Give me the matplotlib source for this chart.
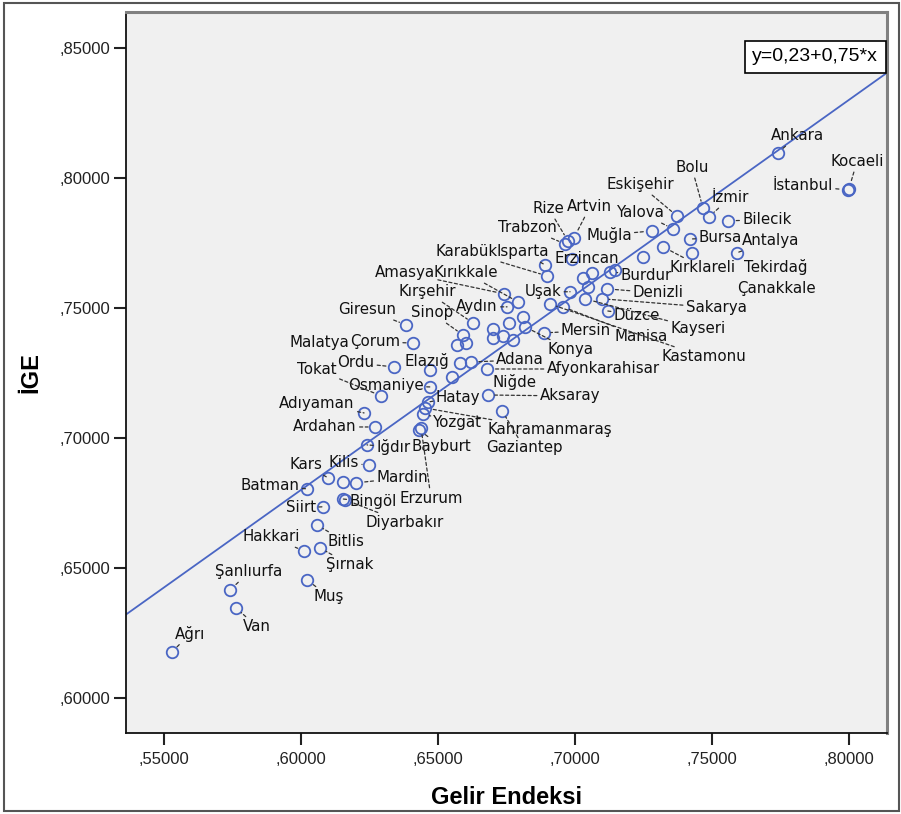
import matplotlib
matplotlib.use('Agg')
import matplotlib.pyplot as plt
from matplotlib.ticker import FuncFormatter, MultipleLocator
from matplotlib.patches import Rectangle

# İllere göre gelir endeksi ve İGE değerleri
provinces = [
    'Ankara', 'İstanbul', 'Kocaeli', 'Bolu', 'İzmir', 'Eskişehir', 'Yalova', 'Bilecik',
    'Muğla', 'Bursa', 'Antalya', 'Tekirdağ', 'Kırklareli', 'Çanakkale', 'Trabzon', 'Rize',
    'Artvin', 'Erzincan', 'Isparta', 'Karabük', 'Burdur', 'Denizli', 'Düzce', 'Sakarya',
    'Kayseri', 'Manisa', 'Uşak', 'Kastamonu', 'Mersin', 'Konya', 'Amasya', 'Kırıkkale',
    'Aydın', 'Kırşehir', 'Sinop', 'Giresun', 'Çorum', 'Malatya', 'Ordu', 'Elazığ',
    'Osmaniye', 'Tokat', 'Adana', 'Afyonkarahisar', 'Niğde', 'Aksaray', 'Hatay',
    'Kahramanmaraş', 'Yozgat', 'Bayburt', 'Erzurum', 'Gaziantep', 'Adıyaman', 'Ardahan',
    'Iğdır', 'Kilis', 'Kars', 'Mardin', 'Batman', 'Bingöl', 'Diyarbakır', 'Siirt',
    'Bitlis', 'Hakkari', 'Şırnak', 'Muş', 'Şanlıurfa', 'Van', 'Ağrı',
]
gelir = [
    0.7741, 0.7996, 0.8000, 0.7467, 0.7489, 0.7372, 0.7358, 0.7558,
    0.7281, 0.7420, 0.7591, 0.7427, 0.7321, 0.7248, 0.6964, 0.6974,
    0.6996, 0.6989, 0.6891, 0.6898, 0.7128, 0.7117, 0.7120, 0.7099,
    0.7036, 0.6956, 0.6982, 0.6909, 0.6887, 0.6818, 0.6741, 0.6792,
    0.6752, 0.6628, 0.6591, 0.6383, 0.6409, 0.6580, 0.6339, 0.6471,
    0.6471, 0.6292, 0.6620, 0.6679, 0.6551, 0.6682, 0.6464,
    0.6453, 0.6445, 0.6431, 0.6438, 0.6734, 0.6230, 0.6270,
    0.6241, 0.6248, 0.6099, 0.6201, 0.6022, 0.6153, 0.6161, 0.6080,
    0.6058, 0.6011, 0.6069, 0.6022, 0.5741, 0.5763, 0.5529,
]
ige = [
    0.8096, 0.7954, 0.7958, 0.7885, 0.7850, 0.7854, 0.7804, 0.7835,
    0.7796, 0.7765, 0.7712, 0.7712, 0.7735, 0.7696, 0.7746, 0.7758,
    0.7769, 0.7688, 0.7665, 0.7623, 0.7638, 0.7573, 0.7488, 0.7535,
    0.7535, 0.7504, 0.7562, 0.7515, 0.7404, 0.7427, 0.7554, 0.7523,
    0.7504, 0.7442, 0.7396, 0.7435, 0.7365, 0.7288, 0.7273, 0.7262,
    0.7196, 0.7162, 0.7292, 0.7265, 0.7235, 0.7165, 0.7138,
    0.7115, 0.7092, 0.7031, 0.7038, 0.7104, 0.7096, 0.7042,
    0.6973, 0.6896, 0.6846, 0.6827, 0.6804, 0.6765, 0.6762, 0.6735,
    0.6665, 0.6565, 0.6577, 0.6454, 0.6415, 0.6346, 0.6177,
]

# etiketsiz kalan iller
other_gelir = [0.7146, 0.7062, 0.7029, 0.7047, 0.6810, 0.6759, 0.6701,
               0.6701, 0.6737, 0.6774, 0.6569, 0.6602, 0.6153]
other_ige = [0.7646, 0.7635, 0.7615, 0.7581, 0.7465, 0.7442, 0.7419,
             0.7385, 0.7392, 0.7377, 0.7358, 0.7365, 0.6831]

# doğrusal uyum: y = 0,23 + 0,75*x
intercept = 0.23
slope = 0.75

# etiket kaydırmaları (piksel, sağa / yukarı)
label_offsets = {
    'Ankara': (19, 17), 'İstanbul': (-45, 4), 'Kocaeli': (8, 27), 'Bolu': (-11, 40),
    'İzmir': (21, 19), 'Eskişehir': (-37, 31), 'Yalova': (-32, 16), 'Bilecik': (39, 1),
    'Muğla': (-43, -4), 'Bursa': (30, 1), 'Antalya': (34, 12), 'Tekirdağ': (84, -14),
    'Kırklareli': (40, -21), 'Çanakkale': (134, -32), 'Trabzon': (-38, 16), 'Rize': (-19, 32),
    'Artvin': (16, 31), 'Erzincan': (15, 1), 'Isparta': (-22, 13), 'Karabük': (-80, 24),
    'Burdur': (36, -3), 'Denizli': (51, -4), 'Düzce': (29, -4), 'Sakarya': (114, -9),
    'Kayseri': (113, -30), 'Manisa': (78, -30), 'Uşak': (-27, 0), 'Kastamonu': (154, -53),
    'Mersin': (42, 2), 'Konya': (45, -23), 'Amasya': (-99, 21), 'Kırıkkale': (-52, 29),
    'Aydın': (-30, 0), 'Kırşehir': (-46, 31), 'Sinop': (-31, 22), 'Giresun': (-39, 15),
    'Çorum': (-38, 1), 'Malatya': (-141, 21), 'Ordu': (-38, 4), 'Elazığ': (-3, 9),
    'Osmaniye': (-44, 1), 'Tokat': (-64, 26), 'Adana': (49, 2), 'Afyonkarahisar': (116, 0),
    'Niğde': (63, -5), 'Aksaray': (82, -1), 'Hatay': (30, 5), 'Kahramanmaraş': (125, -22),
    'Yozgat': (35, -9), 'Bayburt': (22, -17), 'Erzurum': (10, -70), 'Gaziantep': (22, -37),
    'Adıyaman': (-47, 9), 'Ardahan': (-50, 0), 'Iğdır': (26, -2), 'Kilis': (-25, 2),
    'Kars': (-22, 13), 'Mardin': (46, 5), 'Batman': (-37, 3), 'Bingöl': (30, -3),
    'Diyarbakır': (59, -23), 'Siirt': (-22, -1), 'Bitlis': (29, -17), 'Hakkari': (-33, 14),
    'Şırnak': (30, -17), 'Muş': (22, -17), 'Şanlıurfa': (19, 18), 'Van': (21, -19),
    'Ağrı': (18, 18),
}
no_leader = {'Malatya', 'Niğde', 'Çanakkale', 'Tekirdağ', 'Erzincan', 'Elazığ'}

blue = '#4a66c4'

fig = plt.figure(figsize=(9.01, 8.14), dpi=100)
ax = fig.add_axes([126 / 901, 1 - 733 / 814, 761 / 901, 721 / 814])
ax.set_facecolor('#f0f0f0')

ax.set_xlim(0.5361, 0.8139)
ax.set_ylim(0.5865, 0.8638)

xs = [ax.get_xlim()[0], ax.get_xlim()[1]]
ax.plot(xs, [intercept + slope * v for v in xs], color=blue, lw=1.3, zorder=2)

ax.plot(gelir + other_gelir, ige + other_ige, 'o', ms=8.3, mfc='none',
        mec=blue, mew=1.3, zorder=3)

for name, x, y in zip(provinces, gelir, ige):
    dx, dy = label_offsets[name]
    arrow = None
    if name not in no_leader:
        arrow = dict(arrowstyle='-', linestyle=(0, (2.5, 2)), color='#333333',
                     lw=0.9, shrinkA=0, shrinkB=5)
    ax.annotate(name, xy=(x, y), xytext=(dx, dy), textcoords='offset pixels',
                ha='center', va='center', fontsize=10.8, family='DejaVu Sans',
                color='#111111', arrowprops=arrow, zorder=4)

ax.text(0.8107, 0.8465, 'y=0,23+0,75*x', ha='right', va='center',
        fontsize=14, family='Liberation Sans',
        bbox=dict(boxstyle='square,pad=0.38', fc='white', ec='black', lw=1.2),
        zorder=5)

ax.xaxis.set_major_locator(MultipleLocator(0.05))
ax.yaxis.set_major_locator(MultipleLocator(0.05))
fmt = FuncFormatter(lambda v, pos: ('%.5f' % v).replace('0.', ','))
ax.xaxis.set_major_formatter(fmt)
ax.yaxis.set_major_formatter(fmt)
ax.tick_params(direction='out', length=8.5, width=1.5, color='#222222',
               labelsize=12, labelcolor='#222222', pad=3)
ax.tick_params(axis='x', pad=5)
for lab in ax.get_xticklabels() + ax.get_yticklabels():
    lab.set_family('Liberation Sans')

for side in ['left', 'bottom']:
    ax.spines[side].set_color('#111111')
    ax.spines[side].set_linewidth(1.3)
for side in ['top', 'right']:
    ax.spines[side].set_color('#808080')
    ax.spines[side].set_linewidth(2.2)

ax.set_xlabel('Gelir Endeksi', fontsize=17, fontweight='bold',
              family='Liberation Sans', labelpad=14)
ax.set_ylabel('İGE', fontsize=17, fontweight='bold',
              family='Liberation Sans', labelpad=12)

fig.patches.append(Rectangle((4 / 901, 3 / 814), 895 / 901, 808 / 814,
                             transform=fig.transFigure, fill=False,
                             ec='#555555', lw=1.5))

fig.savefig('out.png', dpi=100)
